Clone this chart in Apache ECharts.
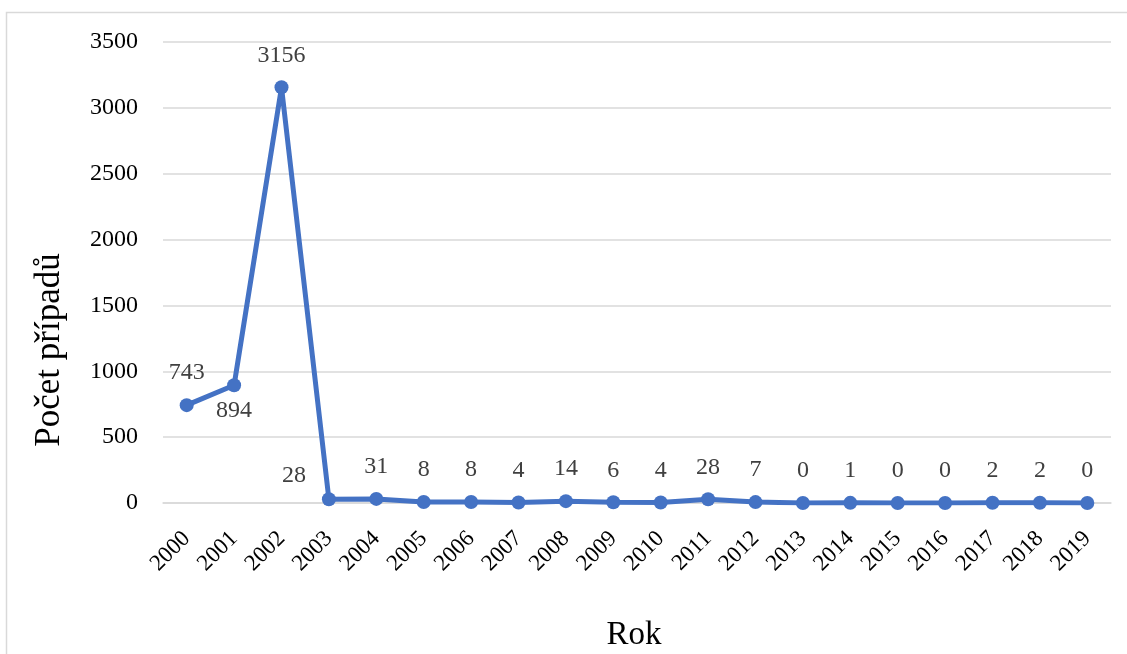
<!DOCTYPE html>
<html>
<head>
<meta charset="utf-8">
<script src="https://cdn.jsdelivr.net/npm/echarts@6/dist/echarts.min.js"></script>
<style>
  html, body { margin: 0; padding: 0; background: #ffffff; }
  #chart { width: 1127px; height: 654px; }
</style>
</head>
<body>
<div id="chart"></div>
<script>
// Years and yearly number of cases
const years = ['2000','2001','2002','2003','2004','2005','2006','2007','2008','2009',
               '2010','2011','2012','2013','2014','2015','2016','2017','2018','2019'];
const cases = [743, 894, 3156, 28, 31, 8, 8, 4, 14, 6, 4, 28, 7, 0, 1, 0, 0, 2, 2, 0];

const FONT = '"Liberation Serif", "DejaVu Serif", serif';

// Per-point label placement for the crowded start of the series
const labelTweaks = {
  '2001': { position: 'bottom', distance: 6 },
  '2003': { position: 'top', offset: [-35, 8] }
};

const seriesData = cases.map((v, i) => {
  const t = labelTweaks[years[i]];
  return t ? { value: v, label: t } : v;
});

const chart = echarts.init(document.getElementById('chart'), null, { renderer: 'canvas' });

chart.setOption({
  animation: false,
  backgroundColor: '#ffffff',
  grid: { left: 163, right: 16, top: 42, bottom: 151 },
  graphic: [
    {
      type: 'rect',
      shape: { x: 6.5, y: 12.5, width: 1300, height: 800 },
      style: { fill: 'none', stroke: '#d9d9d9', lineWidth: 1.5 },
      silent: true
    },
    {
      type: 'text',
      x: 50, y: 350,
      rotation: Math.PI / 2,
      style: {
        text: 'Počet případů',
        font: '35px ' + FONT,
        fill: '#000000',
        align: 'center',
        verticalAlign: 'middle'
      }
    },
    {
      type: 'text',
      x: 634, y: 635,
      style: {
        text: 'Rok',
        font: '33px ' + FONT,
        fill: '#000000',
        align: 'center',
        verticalAlign: 'middle'
      }
    }
  ],
  xAxis: {
    type: 'category',
    data: years,
    boundaryGap: true,
    axisLine: { show: true, lineStyle: { color: '#d9d9d9', width: 1.5 } },
    axisTick: { show: false },
    axisLabel: {
      rotate: 45,
      margin: 32,
      interval: 0,
      color: '#000000',
      fontFamily: FONT,
      fontSize: 23
    }
  },
  yAxis: {
    type: 'value',
    min: 0,
    max: 3500,
    interval: 500,
    axisLine: { show: false },
    axisTick: { show: false },
    splitLine: { lineStyle: { color: '#d9d9d9', width: 1.5 } },
    axisLabel: {
      margin: 25,
      color: '#000000',
      fontFamily: FONT,
      fontSize: 24,
      formatter: v => String(v)
    }
  },
  series: [{
    type: 'line',
    data: seriesData,
    symbol: 'circle',
    symbolSize: 14,
    lineStyle: { color: '#4472C4', width: 5 },
    itemStyle: { color: '#4472C4' },
    label: {
      show: true,
      position: 'top',
      distance: 13,
      color: '#404040',
      fontFamily: FONT,
      fontSize: 24
    }
  }]
});
</script>
</body>
</html>
